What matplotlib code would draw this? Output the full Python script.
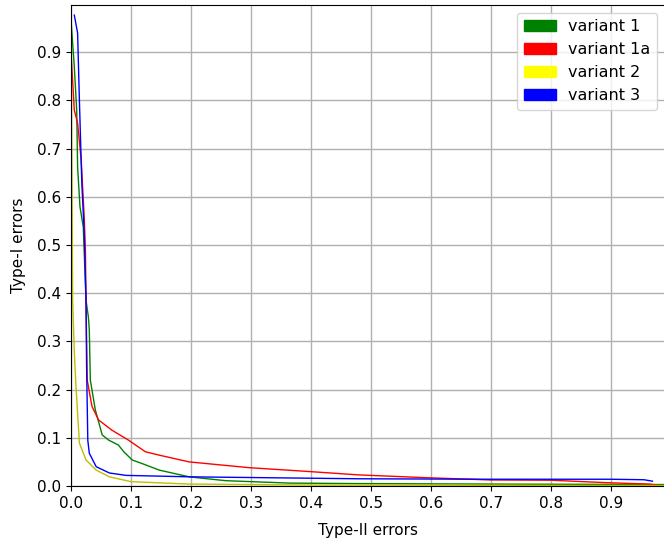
import numpy as np
import matplotlib
matplotlib.use("Agg")
import matplotlib.pyplot as plt
import matplotlib.patches as mpatches

# Type-II errors (x) / Type-I errors (y)
v1_x = [0.0, 0.0055, 0.0095, 0.011, 0.015, 0.0205, 0.025, 0.029, 0.0305, 0.0322, 0.0405, 0.052,
        0.063, 0.079, 0.088, 0.102, 0.124, 0.147, 0.197, 0.258, 0.365, 0.48, 0.7, 0.99]
v1_y = [0.967, 0.87, 0.78, 0.662, 0.579, 0.537, 0.386, 0.35, 0.324, 0.22, 0.158, 0.106,
        0.095, 0.085, 0.071, 0.054, 0.044, 0.033, 0.019, 0.011, 0.006, 0.005, 0.004, 0.003]

v1a_x = [0.0, 0.0055, 0.011, 0.017, 0.022, 0.024, 0.025, 0.027, 0.035, 0.046, 0.068, 0.096,
         0.124, 0.147, 0.197, 0.297, 0.397, 0.48, 0.597, 0.7, 0.8, 0.89, 0.964, 0.985]
v1a_y = [0.90, 0.78, 0.753, 0.676, 0.558, 0.49, 0.386, 0.22, 0.165, 0.137, 0.116, 0.095,
         0.071, 0.064, 0.05, 0.038, 0.03, 0.023, 0.017, 0.0125, 0.012, 0.007, 0.004, 0.0]

v2_x = [0.0, 0.002, 0.0027, 0.0055, 0.008, 0.014, 0.025, 0.042, 0.064, 0.1, 0.197, 0.4, 0.99]
v2_y = [0.95, 0.566, 0.386, 0.28, 0.213, 0.089, 0.054, 0.033, 0.019, 0.009, 0.004, 0.002, 0.001]

v3_x = [0.0055, 0.011, 0.014, 0.018, 0.022, 0.025, 0.026, 0.028, 0.0305, 0.042, 0.064, 0.092,
        0.2, 0.48, 0.7, 0.9, 0.955, 0.969]
v3_y = [0.977, 0.94, 0.80, 0.63, 0.525, 0.386, 0.247, 0.095, 0.068, 0.04, 0.027, 0.022,
        0.019, 0.015, 0.014, 0.014, 0.013, 0.01]

series = [(v1_x, v1_y, 'green', 'green', 'variant 1'),
          (v1a_x, v1a_y, 'red', 'red', 'variant 1a'),
          (v2_x, v2_y, 'y', 'yellow', 'variant 2'),
          (v3_x, v3_y, 'blue', 'blue', 'variant 3')]

fig = plt.figure(figsize=(6.64, 5.48), dpi=100)
ax = fig.add_axes([71/664, 62/548, 594/664, 481/548])

handles = []
for xs, ys, lc, pc, name in series:
    ax.plot(xs, ys, color=lc, lw=1.0)
    handles.append(mpatches.Patch(color=pc, label=name))

ax.set_xlim(0, 0.99)
ax.set_ylim(0, 0.998)
ax.set_xticks(np.arange(0, 1.0, 0.1))
ax.set_yticks(np.arange(0, 1.0, 0.1))
ax.tick_params(labelsize=11)
ax.grid(True, color='#b0b0b0', lw=1.0)
ax.set_xlabel('Type-II errors', fontsize=11, labelpad=9)
ax.set_ylabel('Type-I errors', fontsize=11, labelpad=8)
ax.legend(handles=handles, loc='upper right', fontsize=11.5)

fig.savefig('out.png', dpi=100)
